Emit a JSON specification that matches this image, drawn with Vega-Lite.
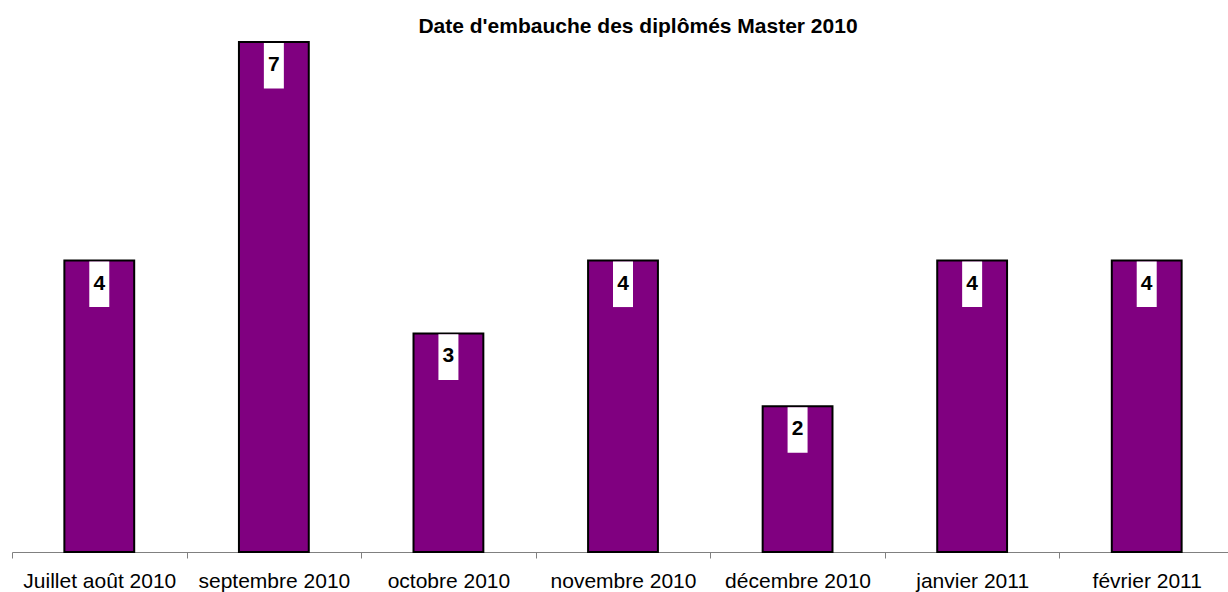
{
  "$schema": "https://vega.github.io/schema/vega-lite/v6.json",
  "autosize": "none",
  "width": 1222,
  "height": 510,
  "padding": {"left": 12, "top": 42, "right": 0, "bottom": 40},
  "background": "white",
  "title": {
    "text": "Date d'embauche des diplômés Master 2010",
    "font": "Liberation Sans",
    "fontSize": 21,
    "fontWeight": "bold",
    "color": "black",
    "anchor": "middle",
    "dx": 15,
    "offset": 4
  },
  "config": {"view": {"stroke": null}},
  "data": {
    "values": [
      {"mois": "Juillet  août 2010", "n": 4},
      {"mois": "septembre 2010", "n": 7},
      {"mois": "octobre 2010", "n": 3},
      {"mois": "novembre 2010", "n": 4},
      {"mois": "décembre 2010", "n": 2},
      {"mois": "janvier 2011", "n": 4},
      {"mois": "février 2011", "n": 4}
    ]
  },
  "encoding": {
    "x": {
      "field": "mois",
      "type": "nominal",
      "sort": null,
      "scale": {"paddingInner": 0, "paddingOuter": 0},
      "axis": {
        "title": null,
        "labelAngle": 0,
        "labelFont": "Liberation Sans",
        "labelFontSize": 21,
        "labelColor": "black",
        "labelPadding": 12,
        "tickBand": "extent",
        "tickSize": 6,
        "tickColor": "#808080",
        "domainColor": "#808080",
        "domainWidth": 1,
        "labelLimit": 300
      }
    },
    "y": {
      "field": "n",
      "type": "quantitative",
      "scale": {"domain": [0, 7], "nice": false},
      "axis": null
    }
  },
  "layer": [
    {
      "mark": {"type": "bar", "width": {"band": 0.4}, "fill": "#800080", "stroke": "black", "strokeWidth": 2}
    },
    {
      "mark": {"type": "point", "shape": "M-0.43,0.04H0.43V2H-0.43Z", "size": 2162, "filled": true, "fill": "white", "opacity": 1, "strokeWidth": 0}
    },
    {
      "mark": {"type": "text", "font": "Liberation Sans", "fontSize": 21, "fontWeight": "bold", "color": "black", "baseline": "middle", "dy": 23},
      "encoding": {"text": {"field": "n", "type": "quantitative"}}
    }
  ]
}
